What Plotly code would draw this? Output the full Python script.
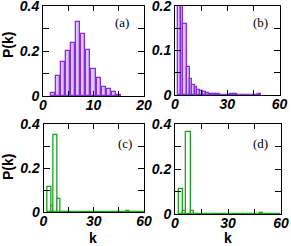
import numpy as np
import plotly.graph_objects as go

# ---------------- data ----------------
# (a) degree distribution, integer k
k_a = [2, 3, 4, 5, 6, 7, 8, 9, 10, 11, 12, 13, 14, 15]
p_a = [0.015, 0.09, 0.152, 0.2, 0.236, 0.33, 0.276, 0.203, 0.12, 0.081, 0.041, 0.03, 0.018, 0.006]

# (b) histogram bin edges and heights
edges_b = [1.7, 3.3, 4.6, 6.7, 8.6, 10.0, 11.3, 12.8, 14.4, 15.9, 17.7,
           19.6, 21.6, 23.6, 25.6, 27.6, 29.6, 31.6, 33.6, 35.6, 37.6,
           39.6, 41.6, 43.6, 45.6, 47.6, 49.6]
p_b = [0.3, 0.3, 0.16, 0.064, 0.035, 0.022, 0.017, 0.011, 0.009, 0.006,
       0.004, 0.003, 0.002, 0.0015, 0.001, 0.001, 0.001, 0.002, 0.002, 0.001,
       0.0008, 0.0008, 0.0008, 0.0008, 0.0008, 0.002]

# (c)
edges_c = [2.3, 4.9, 5.8, 8.2, 10.3, 20.0, 30.0, 40.0, 49.5, 51.5, 60.0]
p_c = [0.114, 0.026, 0.351, 0.06, 0.0005, 0.0005, 0.0005, 0.0005, 0.003, 0.0005]

# (d)
edges_d = [2.4, 4.7, 6.2, 8.9, 10.9, 20.0, 30.0, 40.0, 48.0, 50.0, 60.0]
p_d = [0.112, 0.012, 0.364, 0.012, 0.0005, 0.0005, 0.0005, 0.0005, 0.003, 0.0005]

# ---------------- style ----------------
W, H = 291, 246
PURPLE = "#8a2be2"
PURPLE_FILL = "#dcc6f2"
GREEN = "#1fa01f"
TICKFONT = dict(family="Liberation Sans, Arial", size=14, color="black",
                weight="bold", style="italic")


def px_x(v):
    return v / W


def px_y(v):
    return 1 - v / H


def centers_widths(edges):
    e = np.asarray(edges, dtype=float)
    return (e[:-1] + e[1:]) / 2, np.diff(e)


fig = go.Figure()

fig.add_trace(go.Bar(x=k_a, y=p_a, width=0.8, xaxis="x", yaxis="y",
                     marker=dict(color=PURPLE_FILL, line=dict(color=PURPLE, width=1.3))))

cb, wb = centers_widths(edges_b)
fig.add_trace(go.Bar(x=cb, y=p_b, width=wb, xaxis="x2", yaxis="y2",
                     marker=dict(color=PURPLE_FILL, line=dict(color=PURPLE, width=1.3))))

cc, wc = centers_widths(edges_c)
fig.add_trace(go.Bar(x=cc, y=p_c, width=wc, xaxis="x3", yaxis="y3",
                     marker=dict(color="white", line=dict(color=GREEN, width=1.3))))

cd, wd = centers_widths(edges_d)
fig.add_trace(go.Bar(x=cd, y=p_d, width=wd, xaxis="x4", yaxis="y4",
                     marker=dict(color="white", line=dict(color=GREEN, width=1.3))))


def xaxis(dom, rng, tv, tt, anchor):
    return dict(domain=dom, range=rng, anchor=anchor, showline=True, linecolor="black",
                linewidth=1, mirror="allticks", ticks="inside", ticklen=5, tickwidth=1,
                tickcolor="black", tickvals=tv, ticktext=tt, tickfont=TICKFONT,
                showgrid=False, zeroline=False, automargin=False,
                ticklabeloverflow="allow", ticklabelstandoff=-4)


def yaxis(dom, rng, tv, tt, anchor):
    return dict(domain=dom, range=rng, anchor=anchor, showline=True, linecolor="black",
                linewidth=1, mirror="allticks", ticks="inside", ticklen=6, tickwidth=1,
                tickcolor="black", tickvals=tv, ticktext=tt, tickfont=TICKFONT,
                showgrid=False, zeroline=False, automargin=False,
                ticklabeloverflow="allow")


dom_a_x = [px_x(43), px_x(144)]
dom_b_x = [px_x(175), px_x(279.5)]
dom_c_x = [px_x(43.5), px_x(144)]
dom_d_x = [px_x(175), px_x(281)]
dom_top_y = [px_y(96), px_y(6)]
dom_b_y = [px_y(95), px_y(6)]
dom_c_y = [px_y(212), px_y(124)]
dom_d_y = [px_y(214), px_y(124)]

x60_tv = [0, 15, 30, 45, 60]
x60_tt = ["0", "", "30", "", "60"]
y4_tv = [0, 0.1, 0.2, 0.3, 0.4]
y4_tt = ["0", "", "0.2", "", "0.4"]

fig.update_layout(
    template="none",
    width=W, height=H, margin=dict(l=0, r=0, t=0, b=0, autoexpand=False),
    paper_bgcolor="white", plot_bgcolor="white", showlegend=False, bargap=0,
    xaxis=xaxis(dom_a_x, [0, 20], [0, 5, 10, 15, 20], ["0", "", "10", "", "20"], "y"),
    yaxis=yaxis(dom_top_y, [0, 0.4], y4_tv, y4_tt, "x"),
    xaxis2=xaxis(dom_b_x, [0, 60], x60_tv, x60_tt, "y2"),
    yaxis2=yaxis(dom_b_y, [0, 0.2], [0, 0.05, 0.1, 0.15, 0.2], ["0", "", "0.1", "", "0.2"], "x2"),
    xaxis3=xaxis(dom_c_x, [0, 60], x60_tv, x60_tt, "y3"),
    yaxis3=yaxis(dom_c_y, [0, 0.4], y4_tv, y4_tt, "x3"),
    xaxis4=xaxis(dom_d_x, [0, 60], x60_tv, x60_tt, "y4"),
    yaxis4=yaxis(dom_d_y, [0, 0.4], y4_tv, y4_tt, "x4"),
)

SERIF = dict(family="Liberation Serif, Times New Roman", size=13, color="black")
TITLE = dict(family="Liberation Sans, Arial", size=14, color="black", weight="bold")

labels = [("(a)", 122, 22), ("(b)", 260, 22), ("(c)", 125, 143), ("(d)", 260, 143)]
for txt, x, y in labels:
    fig.add_annotation(text=txt, x=px_x(x), y=px_y(y), xref="paper", yref="paper",
                       showarrow=False, font=SERIF, xanchor="center", yanchor="middle")

for y in (45, 167):
    fig.add_annotation(text="P(k)", x=px_x(8), y=px_y(y), xref="paper", yref="paper",
                       showarrow=False, font=TITLE, textangle=-90,
                       xanchor="center", yanchor="middle")

for x in (93, 228):
    fig.add_annotation(text="k", x=px_x(x), y=px_y(238), xref="paper", yref="paper",
                       showarrow=False, font=TITLE, xanchor="center", yanchor="middle")

fig.write_html("out.html", config={"displayModeBar": False},
               post_script="document.body.style.margin='0';document.body.style.overflow='hidden';")
